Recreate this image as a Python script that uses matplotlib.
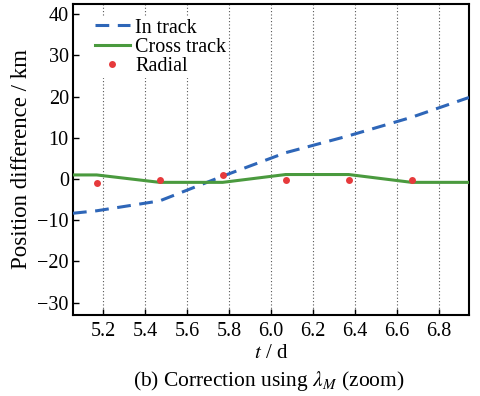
import matplotlib
matplotlib.use("Agg")
import matplotlib.pyplot as plt

plt.rcParams['font.family'] = ['Liberation Serif', 'DejaVu Serif']
plt.rcParams['mathtext.fontset'] = 'stix'

# Data
t_in = [5.057, 5.17, 5.47, 5.77, 6.07, 6.37, 6.67, 6.943]
in_track = [-8.3, -7.7, -5.3, 0.7, 6.4, 10.5, 15.0, 19.8]

t_cross = [5.057, 5.17, 5.47, 5.77, 6.07, 6.37, 6.67, 6.943]
cross_track = [1.0, 1.0, -0.8, -0.8, 1.1, 1.1, -0.8, -0.8]

t_radial = [5.17, 5.47, 5.77, 6.07, 6.37, 6.67]
radial = [-1.0, -0.3, 1.0, -0.3, -0.3, -0.3]

xticks = [5.2, 5.4, 5.6, 5.8, 6.0, 6.2, 6.4, 6.6, 6.8]
xticklabels = ["5.2", "5.4", "5.6", "5.8", "6.0", "6.2", "6.4", "6.6", "6.8"]
yticks = [-30, -20, -10, 0, 10, 20, 30, 40]
yticklabels = ["\u221230", "\u221220", "\u221210", "0", "10", "20", "30", "40"]

fig = plt.figure(figsize=(4.8, 3.96), dpi=100)
ax = fig.add_axes([0.152, 0.2045, 0.825, 0.7855])

ax.plot(t_in, in_track, color='#2e66b8', lw=2.2, dashes=(4.5, 2.8), label='In track', zorder=3)
ax.plot(t_cross, cross_track, color='#4a9a3e', lw=2.2, label='Cross track', zorder=3)
ax.plot(t_radial, radial, 'o', color='#e63a3c', ms=5, mec='none', label='Radial', zorder=4)

ax.set_xlim(5.057, 6.943)
ax.set_ylim(-33, 42.5)
ax.set_xticks(xticks)
ax.set_xticklabels(xticklabels)
ax.set_yticks(yticks)
ax.set_yticklabels(yticklabels)
ax.tick_params(direction='in', length=4, width=1, labelsize=14.5)
ax.tick_params(axis='x', pad=5)
ax.tick_params(axis='y', pad=3)
ax.xaxis.grid(True, linestyle=(0, (1, 2)), color='#555555', lw=0.8)
ax.set_axisbelow(True)
for s in ax.spines.values():
    s.set_linewidth(1.5)

ax.set_ylabel('Position difference / km', fontsize=16.5, labelpad=4)
ax.set_xlabel(r'$t$ / d', fontsize=15, labelpad=2)

leg = ax.legend(loc='upper left', bbox_to_anchor=(0.05, 0.96), frameon=True, fontsize=14.5,
                handlelength=1.75, handletextpad=0.25, labelspacing=0.0,
                borderpad=0.1, borderaxespad=0.0)
leg.get_frame().set_edgecolor('none')
leg.get_frame().set_facecolor('white')
leg.get_frame().set_alpha(1.0)

fig.text(0.56, 0.038, r'(b) Correction using $\lambda_M$ (zoom)', ha='center', va='center', fontsize=15.5)

fig.savefig('out.png', dpi=100)
